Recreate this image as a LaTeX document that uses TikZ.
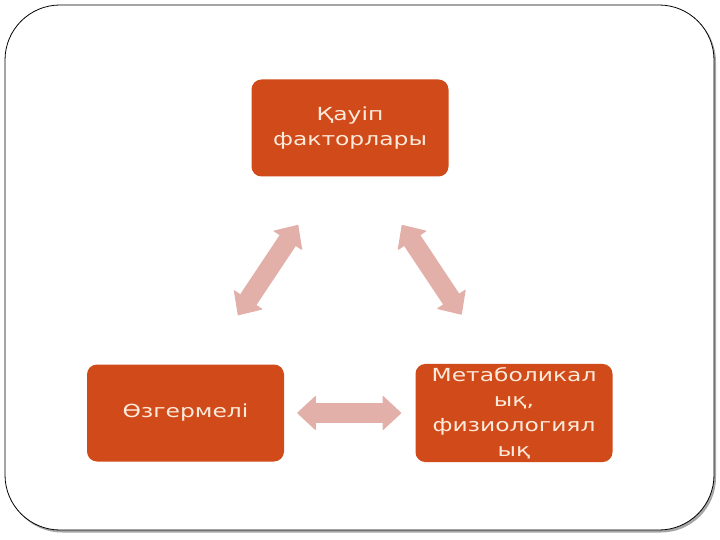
\documentclass[tikz,border=0pt]{standalone}
\usepackage{fontspec}
\usepackage{tikz}
\usetikzlibrary{arrows.meta,calc}
\usepackage[dvipsnames]{xcolor}
\newfontfamily\boxfont[FakeStretch=1.3]{DejaVu Sans}
\definecolor{boxorange}{RGB}{208,74,26}
\definecolor{boxtext}{RGB}{253,234,218}
\definecolor{arrowpink}{RGB}{227,176,169}

\begin{document}
\begin{tikzpicture}[x=1pt, y=-1pt,
  box/.style={fill=boxorange, rounded corners=10pt, minimum width=197pt,
    minimum height=97pt, align=center, text=boxtext,
    font=\boxfont\fontsize{18}{25}\selectfont},
  bothway/.style={arrowpink, line width=19.5pt,
    {Triangle[width=35pt, length=19pt, line width=1pt, round]}-{Triangle[width=35pt, length=19pt, line width=1pt, round]}}]
  \useasboundingbox (0,0) rectangle (720,540);

  % Frame with shadow
  \fill[gray!70, rounded corners=55pt] (7,7) rectangle (716,532.5);
  \draw[black, thick, fill=white, rounded corners=55pt] (5,5) rectangle (714,530);

  % Boxes
  \node[box] (risk) at (350,128) {Қауіп\\факторлары};
  \node[box] (change) at (185.5,413) {Өзгермелі};
  \node[box] (metab) at (514,413) {Метаболикал\\ық,\\физиологиял\\ық};

  % Arrows between the boxes
  \draw[bothway, shorten <=58pt, shorten >=59pt]
    ($(risk.south west)!0.4!(risk.south east)$) -- ($(change.north west)!0.6!(change.north east)$);
  \draw[bothway, shorten <=58pt, shorten >=59pt]
    ($(risk.south west)!0.6!(risk.south east)$) -- ($(metab.north west)!0.4!(metab.north east)$);
  \draw[bothway, shorten <=13pt, shorten >=14pt] (change.east) -- (metab.west);

\end{tikzpicture}
\end{document}
